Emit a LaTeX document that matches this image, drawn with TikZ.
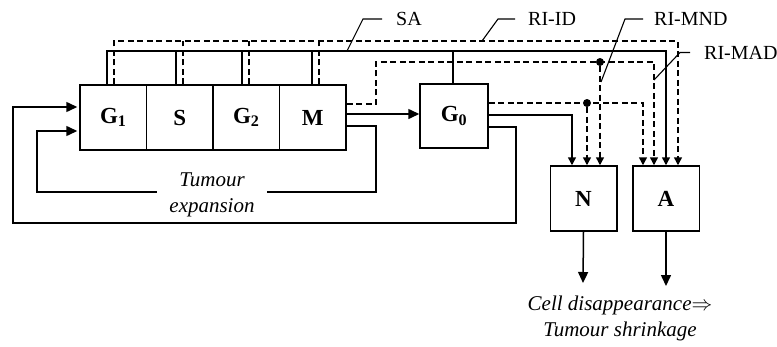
\documentclass[tikz,border=0pt]{standalone}
\usepackage{fontspec}
\setmainfont{Liberation Serif}
\usetikzlibrary{arrows.meta}
\begin{document}
\begin{tikzpicture}[x=1pt,y=-1pt,
  box/.style={draw,line width=1.5pt,minimum width=66.5pt,minimum height=65pt,inner sep=0pt,font=\fontsize{23}{26}\selectfont\bfseries},
  ln/.style={line width=1.5pt},
  dsh/.style={line width=1.5pt,dash pattern=on 6pt off 3.5pt},
  tip/.style={-{Triangle[length=8pt,width=8pt]}},
  bigtip/.style={-{Triangle[length=11pt,width=10pt]}},
  leader/.style={line width=1.1pt},
  lbl/.style={font=\fontsize{20}{22}\selectfont,inner sep=0pt},
  itxt/.style={font=\fontsize{21}{26}\selectfont\itshape,align=center,inner sep=0pt},
  dot/.style={circle,fill,inner sep=0pt,minimum size=8pt}]
\useasboundingbox (0,0) rectangle (777,346);
% boxes
\node[box] (G1) at (113.25,117.5) {G\textsubscript{1}};
\node[box] (S) at (179.75,117.5) {S};
\node[box] (G2) at (246.25,117.5) {G\textsubscript{2}};
\node[box] (M) at (312.75,117.5) {M};
\node[box,minimum width=68pt,minimum height=64pt] (G0) at (454,116) {G\textsubscript{0}};
\node[box] (N) at (583.5,198.5) {N};
\node[box] (A) at (666,198.5) {A};
% texts
\node[itxt,minimum width=110pt] (tex) at (212,195) {Tumour\\expansion};
\node[itxt] (cd) at (620,318) {Cell disappearance$\Rightarrow$\\Tumour shrinkage};
\node[lbl,anchor=west] (sa) at (396,19) {SA};
\node[lbl,anchor=west] (riid) at (528,19) {RI-ID};
\node[lbl,anchor=west] (rimnd) at (654,19) {RI-MND};
\node[lbl,anchor=west] (rimad) at (704,52.5) {RI-MAD};
% leaders
\draw[leader] ([xshift=-14pt]sa.west) -- ++(-19,0) -- (347,51);
\draw[leader] ([xshift=-13pt]riid.west) -- ++(-17,0) -- (482,41);
\draw[leader] ([xshift=-11pt]rimnd.west) -- ++(-18,0) -- (601,82);
\draw[leader] ([xshift=-14pt]rimad.west) -- ++(-10,0) -- (654,80);
% SA bus
\draw[ln,tip] (G1.north -| 107,0) -- (107,51) -- (666,51) -- (A.north -| 666,0);
\foreach \n/\x in {S/176,G2/242,M/312,G0/453} \draw[ln] (\n.north -| \x,0) -- (\x,51);
% RI-ID bus
\draw[dsh,tip] (G1.north -| 114,0) -- (114,41) -- (678,41) -- (A.north -| 678,0);
\foreach \n/\x in {S/183,G2/249,M/319} \draw[dsh] (\n.north -| \x,0) -- (\x,41);
% RI-MND / RI-MAD from M
\draw[dsh,tip] (M.east |- 0,104) -- (376,104) -- (376,62) -- (654,62) -- (A.north -| 654,0);
\node[dot] (d1) at (600,62) {};
\draw[dsh,tip] (d1) -- (N.north -| d1);
% from G0
\draw[dsh,tip] (G0.east |- 0,103) -- (643,103) -- (A.north -| 643,0);
\node[dot] (d2) at (587,103) {};
\draw[dsh,tip] (d2) -- (N.north -| d2);
\draw[ln,tip] (G0.east |- 0,115) -- (572,115) -- (N.north -| 572,0);
% M to G0
\draw[ln,bigtip] (M.east |- 0,114) -- (G0.west |- 0,114);
% inner loop
\draw[ln] (M.east |- 0,126) -- (376,126) -- (376,192) -- (tex.east |- 0,192);
\draw[ln,bigtip,shorten >=2pt] (tex.west |- 0,192) -- (37,192) -- (37,131) -- (G1.west |- 0,131);
% outer loop
\draw[ln,bigtip,shorten >=2pt] (G0.east |- 0,127) -- (516,127) -- (516,223) -- (13,223) -- (13,107) -- (G1.west |- 0,107);
% outputs
\coordinate (nout) at (583,283);
\coordinate (aout) at (666,286);
\draw[ln,bigtip] (N.south) -- (nout);
\draw[ln,bigtip] (A.south) -- (aout);
\end{tikzpicture}
\end{document}
